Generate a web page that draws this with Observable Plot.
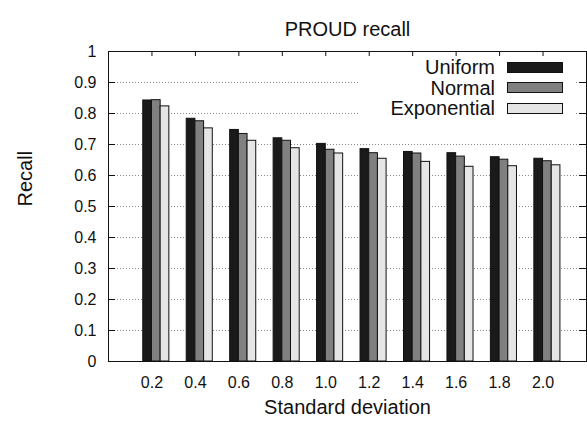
<!DOCTYPE html>
<html>
<head>
<meta charset="utf-8">
<script src="https://cdn.jsdelivr.net/npm/d3@7"></script>
<script src="https://cdn.jsdelivr.net/npm/@observablehq/plot@0.6"></script>
<style>
  html, body { margin: 0; padding: 0; background: #fff; }
  #wrap { position: relative; width: 587px; height: 422px; font-family: "Liberation Sans", Arial, sans-serif; }
  #legend { position: absolute; left: 358px; top: 56px; width: 217px; height: 66px; background: #fff; }
  .row { position: absolute; left: 0; width: 217px; height: 20px; }
  .lab { position: absolute; left: 0; width: 137px; text-align: right; font-size: 20px; line-height: 20px; color: #111; white-space: nowrap; }
  .sw { position: absolute; left: 149px; top: 4.5px; width: 56px; height: 11px; box-sizing: border-box; border: 1px solid #111; }
</style>
</head>
<body>
<div id="wrap"></div>
<script>
// ---- data ----
const stdLabels = ["0.2", "0.4", "0.6", "0.8", "1.0", "1.2", "1.4", "1.6", "1.8", "2.0"];
const seriesNames = ["Uniform", "Normal", "Exponential"];
const uniform     = [0.842, 0.783, 0.747, 0.720, 0.702, 0.685, 0.676, 0.672, 0.659, 0.654];
const normal      = [0.843, 0.775, 0.734, 0.712, 0.683, 0.672, 0.671, 0.661, 0.651, 0.646];
const exponential = [0.823, 0.752, 0.712, 0.688, 0.671, 0.654, 0.644, 0.628, 0.630, 0.633];
const yTicks = [0, 0.1, 0.2, 0.3, 0.4, 0.5, 0.6, 0.7, 0.8, 0.9, 1];
const yTickLabels = ["0", "0.1", "0.2", "0.3", "0.4", "0.5", "0.6", "0.7", "0.8", "0.9", "1"];
const gridTicks = [0.1, 0.2, 0.3, 0.4, 0.5, 0.6, 0.7, 0.8, 0.9];
const seriesColors = ["#1a1a1a", "#808080", "#e5e5e5"];

const title = "PROUD recall";
const xLabel = "Standard deviation";
const yLabel = "Recall";

// ---- build table ----
const seriesValues = [uniform, normal, exponential];
const idx = stdLabels.map((_, i) => i);
const rows = [];
stdLabels.forEach((s, i) => {
  seriesNames.forEach((name, k) => {
    rows.push({i, k, name, value: seriesValues[k][i]});
  });
});
const barW = 0.2;

const W = 587, H = 422;
const mL = 108, mR = 1, mT = 51, mB = 61;
const frameW = W - mL - mR, frameH = H - mT - mB;

const chart = Plot.plot({
  width: W,
  height: H,
  marginLeft: mL,
  marginRight: mR,
  marginTop: mT,
  marginBottom: mB,
  style: {fontFamily: "Liberation Sans, Arial, sans-serif", color: "#111", background: "#fff"},
  x: {type: "linear", domain: [-1, stdLabels.length], axis: null},
  y: {domain: [0, 1], axis: null},
  color: {domain: seriesNames, range: seriesColors},
  marks: [
    Plot.ruleY(gridTicks, {y: d => d, stroke: "#888", strokeWidth: 1, strokeDasharray: "1,2"}),
    Plot.rectY(rows, {
      x1: d => d.i + (d.k - 1) * barW,
      x2: d => d.i + d.k * barW,
      y1: 0,
      y2: "value",
      fill: "name",
      stroke: "#111",
      strokeWidth: 1
    }),
    Plot.frame({stroke: "#111", strokeWidth: 1}),
    // inward ticks: left, right, top
    Plot.tickY(yTicks, {y: d => d, insetRight: frameW - 7, stroke: "#111"}),
    Plot.tickY(yTicks, {y: d => d, insetLeft: frameW - 7, stroke: "#111"}),
    Plot.tickX(idx, {x: d => d, insetBottom: frameH - 5, stroke: "#111"}),
    // tick labels
    Plot.axisY(yTicks, {anchor: "left", tickSize: 0, tickPadding: 12, fontSize: 16, label: null,
      tickFormat: d => yTickLabels[yTicks.indexOf(d)]}),
    Plot.axisX(idx, {anchor: "bottom", tickSize: 0, tickPadding: 15, fontSize: 16, label: null, tickFormat: i => stdLabels[i]}),
    // titles
    Plot.text([title], {frameAnchor: "top", dy: -30, fontSize: 20}),
    Plot.text([xLabel], {frameAnchor: "bottom", dy: 52.6, fontSize: 20}),
    Plot.text([yLabel], {frameAnchor: "left", dx: -82.7, rotate: -90, fontSize: 20})
  ]
});

const wrap = document.getElementById("wrap");
wrap.appendChild(chart);

// legend (HTML overlay)
const legend = document.createElement("div");
legend.id = "legend";
const rowCenters = [11, 31.7, 52.3];
seriesNames.forEach((name, k) => {
  const r = document.createElement("div");
  r.className = "row";
  r.style.top = (rowCenters[k] - 10) + "px";
  const lab = document.createElement("div");
  lab.className = "lab";
  lab.textContent = name;
  const sw = document.createElement("div");
  sw.className = "sw";
  sw.style.background = seriesColors[k];
  r.appendChild(lab);
  r.appendChild(sw);
  legend.appendChild(r);
});
wrap.appendChild(legend);
</script>
</body>
</html>
